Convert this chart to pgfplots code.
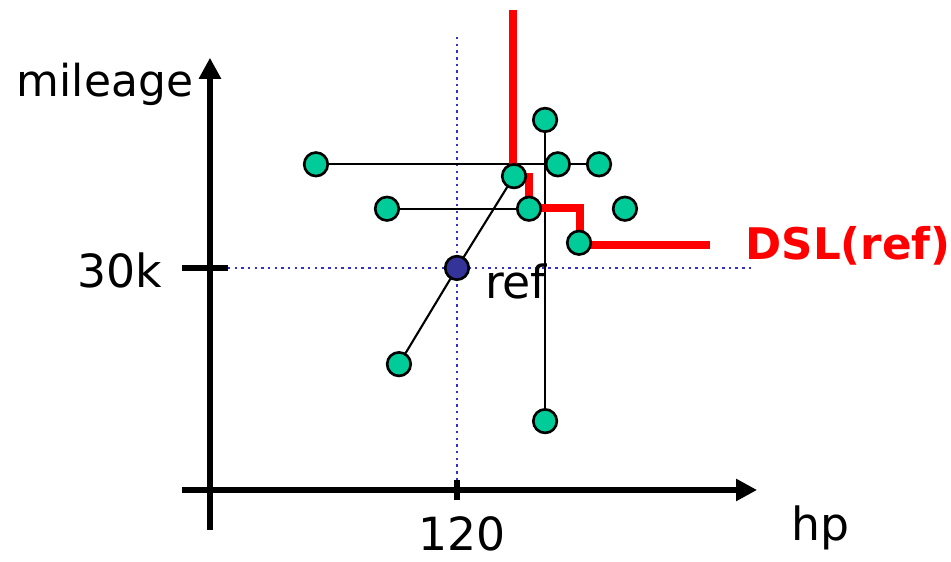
\documentclass[border=0pt]{standalone}
\usepackage{pgfplots}
\pgfplotsset{compat=1.18}
\usepackage{fontspec}
\setmainfont{DejaVu Sans}
\usetikzlibrary{arrows.meta}

\definecolor{dotteal}{RGB}{0,204,153}
\definecolor{refnavy}{RGB}{51,51,153}
\definecolor{guideblue}{RGB}{50,50,200}
\definecolor{dslred}{RGB}{255,0,0}

\tikzset{lbl/.style={font=\fontsize{13}{15}\selectfont, inner sep=0pt, anchor=base}}

\begin{document}
\begin{tikzpicture}
\begin{axis}[
  scale only axis,
  width=9.51cm, height=5.61cm,
  xmin=-102.0, xmax=360.0,
  ymin=-9.6, ymax=66.2,
  axis lines=none,
  clip=false,
]
% guide lines through the reference car
\addplot[guideblue, dash pattern=on 0.7pt off 1.2pt, line width=0.7pt] coordinates {(120,61.2) (120,1.4)};
\addplot[guideblue, dash pattern=on 0.7pt off 1.2pt, line width=0.7pt] coordinates {(8.7,30) (264.8,30)};

% axes
\draw[line width=1.9pt, -{Triangle[length=6pt,width=6pt]}] (axis cs:-13.6,0) -- (axis cs:265.8,0);
\draw[line width=1.9pt, -{Triangle[length=6pt,width=6pt]}] (axis cs:0,-5.4) -- (axis cs:0,58.4);
\draw[line width=1.9pt] (axis cs:120,-1.4) -- (axis cs:120,1.4);
\draw[line width=1.9pt] (axis cs:-13.6,30) -- (axis cs:8.7,30);

% dominance links
\addplot[black, line width=0.6pt] coordinates {(51.5,44.0) (189.0,44.0)};
\addplot[black, line width=0.6pt] coordinates {(86.0,38.0) (155.0,38.0)};
\addplot[black, line width=0.6pt] coordinates {(162.8,50.0) (162.8,9.3)};
\addplot[black, line width=0.6pt] coordinates {(91.8,17.0) (120,30) (147.7,42.4)};

% cars
\addplot[only marks, mark=*, mark size=3.35pt,
  mark options={fill=dotteal, draw=black, line width=0.75pt}] coordinates {
  (51.5,44.0) (86.0,38.0) (91.8,17.0) (147.7,42.4) (155.0,38.0)
  (162.8,50.0) (169.0,44.0) (189.0,44.0) (201.6,38.0) (179.3,33.4)
  (162.8,9.3)
};
\addplot[only marks, mark=*, mark size=3.35pt,
  mark options={fill=refnavy, draw=black, line width=0.75pt}] coordinates {(120,30)};

% dynamic skyline of the reference
\addplot[dslred, line width=2.1pt] coordinates {
  (147.2,64.9) (147.2,42.3) (155.0,42.3) (155.0,38.1)
  (179.8,38.1) (179.8,33.1) (243.0,33.1)
};

% labels
\node[lbl] at (axis cs:122.4,-8.2) {120};
\node[lbl] at (axis cs:296.4,-6.8) {hp};
\node[lbl] at (axis cs:-43.7,27.4) {30k};
\node[lbl, font=\fontsize{12.5}{15}\selectfont] at (axis cs:-51.0,53.1) {mileage};
\node[lbl] at (axis cs:148.7,25.9) {ref};
\node[lbl, text=dslred, font=\fontsize{12.4}{14}\selectfont\bfseries] at (axis cs:310.0,31.1) {DSL(ref)};
\end{axis}
\pgfresetboundingbox
\path (current axis.south west) rectangle (current axis.north east);
\end{tikzpicture}
\end{document}
